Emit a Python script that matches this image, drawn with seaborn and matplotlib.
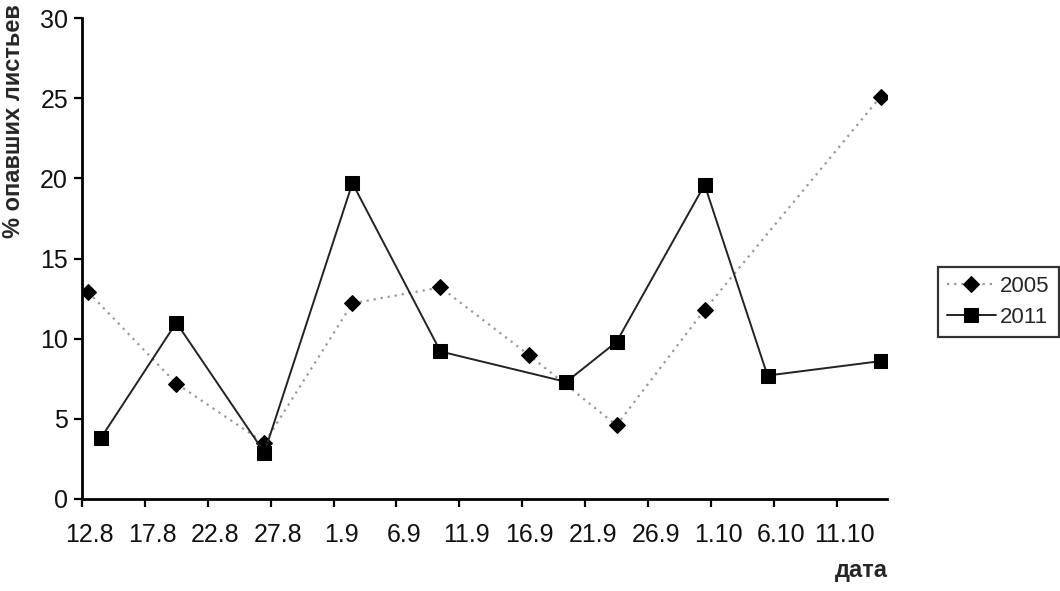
import matplotlib
matplotlib.use("Agg")
import matplotlib.pyplot as plt
import seaborn as sns
import pandas as pd
import numpy as np

# ---- data ----
dates_2005 = ["12.8", "19.8", "26.8", "2.9", "9.9", "16.9", "23.9", "30.9", "14.10"]
vals_2005 = [12.9, 7.2, 3.5, 12.2, 13.2, 9.0, 4.6, 11.8, 25.1]
dates_2011 = ["13.8", "19.8", "26.8", "2.9", "9.9", "19.9", "23.9", "30.9", "5.10", "14.10"]
vals_2011 = [3.8, 11.0, 2.9, 19.7, 9.2, 7.3, 9.8, 19.6, 7.7, 8.6]
tick_labels = ["12.8", "17.8", "22.8", "27.8", "1.9", "6.9", "11.9", "16.9",
               "21.9", "26.9", "1.10", "6.10", "11.10"]
start_date = "12.8"
end_date = "15.10"
y_label = "% опавших листьев"
x_label = "дата"


def to_day(s):
    d, m = s.split(".")
    return pd.Timestamp(year=2000, month=int(m), day=int(d))


t0 = to_day(start_date)


def day_offset(s):
    return (to_day(s) - t0).days


df05 = pd.DataFrame({"x": [day_offset(d) + 0.5 for d in dates_2005], "y": vals_2005})
df11 = pd.DataFrame({"x": [day_offset(d) + 0.5 for d in dates_2011], "y": vals_2011})

sns.set_theme(style="white")
plt.rcParams["font.family"] = ["Liberation Sans", "DejaVu Sans"]

fig = plt.figure(figsize=(10.6, 5.91), dpi=100)
ax = fig.add_axes([82 / 1060, 1 - 499 / 591, (887 - 82) / 1060, (499 - 18) / 591])

sns.lineplot(data=df05, x="x", y="y", ax=ax, color="#999999", linestyle=(0, (1, 2.2)),
             linewidth=1.6, marker="D", markersize=8, markerfacecolor="black",
             markeredgecolor="black", estimator=None, sort=False, label="2005")
sns.lineplot(data=df11, x="x", y="y", ax=ax, color="#222222", linestyle="-",
             linewidth=1.4, marker="s", markersize=10, markerfacecolor="black",
             markeredgecolor="black", estimator=None, sort=False, label="2011")

ax.set_xlim(0, day_offset(end_date))
ax.set_ylim(0, 30)
ax.set_yticks(np.arange(0, 31, 5))
ax.set_yticklabels([str(v) for v in range(0, 31, 5)])

# tick marks at day boundaries, labels centred on the day (between tick marks)
tick_pos = [day_offset(t) for t in tick_labels]
ax.set_xticks(tick_pos)
ax.set_xticklabels([])
ax.set_xticks([p + 0.6 for p in tick_pos], minor=True)
ax.set_xticklabels(tick_labels, minor=True)

for side in ["top", "right"]:
    ax.spines[side].set_visible(False)
for side in ["left", "bottom"]:
    ax.spines[side].set_color("black")
    ax.spines[side].set_linewidth(2)

ax.tick_params(axis="both", which="major", direction="out", length=6, width=1.6,
               color="black", labelsize=18, labelcolor="#111111", bottom=True, left=True)
ax.tick_params(axis="x", which="minor", length=0, labelsize=18, labelcolor="#111111",
               pad=17, bottom=True)
ax.tick_params(axis="y", pad=4)

ax.set_ylabel(y_label, fontsize=17, fontweight="bold")
ax.yaxis.set_label_coords(-0.071, 0.785)
ax.set_xlabel("")
fig.text(888 / 1060, 1 - 570 / 591, x_label, fontsize=17, fontweight="bold",
         ha="right", va="center")

leg = ax.legend(loc="center left", bbox_to_anchor=(938 / 1060, 1 - 302 / 591),
                bbox_transform=fig.transFigure, frameon=True, fancybox=False,
                edgecolor="black", fontsize=16, handlelength=2.2, handletextpad=0.2,
                borderpad=0.4, labelspacing=0.45, borderaxespad=0)
leg.get_frame().set_linewidth(1.6)

fig.savefig("out.png", dpi=100, facecolor="white")
